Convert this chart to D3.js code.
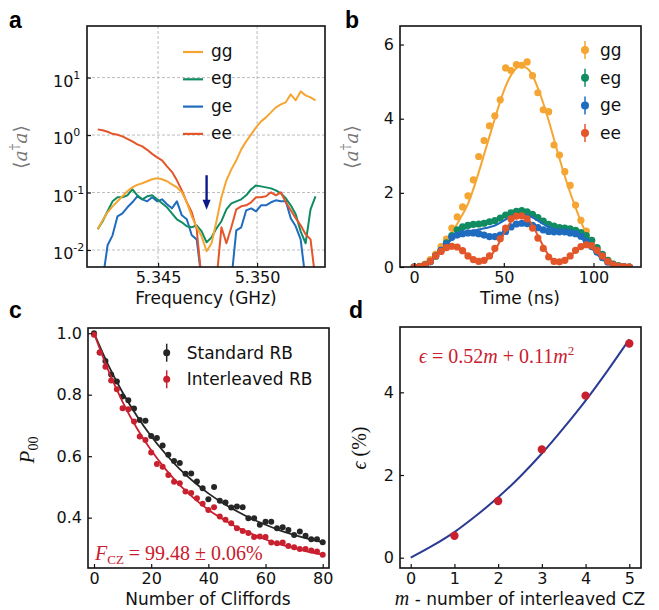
<!DOCTYPE html>
<html>
<head>
<meta charset="utf-8">
<script src="https://cdn.jsdelivr.net/npm/d3@7"></script>
<style>
body { margin: 0; background: #fff; }
</style>
</head>
<body>
<svg id="fig" width="659" height="610"></svg>
<script>
// ---- panel a: photon number vs drive frequency (GHz), log scale ----
const freqA = [5.34195, 5.34220, 5.34245, 5.34270, 5.34295, 5.34320, 5.34345, 5.34370, 5.34395, 5.34420,
  5.34445, 5.34470, 5.34495, 5.34520, 5.34545, 5.34570, 5.34595, 5.34620, 5.34645, 5.34670,
  5.34695, 5.34720, 5.34745, 5.34770, 5.34795, 5.34820, 5.34845, 5.34870, 5.34895, 5.34920,
  5.34945, 5.34970, 5.34995, 5.35020, 5.35045, 5.35070, 5.35095, 5.35120, 5.35145, 5.35170,
  5.35195, 5.35220, 5.35245, 5.35270, 5.35295];
const ggA = [0.0229, 0.0329, 0.0453, 0.0575, 0.0703, 0.0859, 0.105, 0.123, 0.136, 0.145,
  0.157, 0.170, 0.177, 0.170, 0.157, 0.139, 0.123, 0.101, 0.0676, 0.0386,
  0.0248, 0.0173, 0.0095, 0.0131, 0.0316, 0.0826, 0.163, 0.253, 0.363, 0.564,
  0.777, 1.03, 1.36, 1.73, 2.03, 2.48, 3.03, 3.42, 3.71, 5.12,
  4.03, 5.75, 4.90, 4.53, 4.03];
const egA = [0.0229, 0.0317, 0.0471, 0.0703, 0.0826, 0.0826, 0.0894, 0.114, 0.0894, 0.0762,
  0.0859, 0.0894, 0.0762, 0.0649, 0.0553, 0.0435, 0.0342, 0.0303, 0.0258, 0.0248,
  0.0269, 0.0211, 0.0136, 0.0166, 0.0238, 0.0317, 0.051, 0.0649, 0.0703, 0.0762,
  0.0894, 0.114, 0.133, 0.128, 0.123, 0.118, 0.109, 0.0969, 0.0793, 0.0599,
  0.0418, 0.0211, 0.0131, 0.051, 0.0859];
const geA = [null, 0.003, 0.0121, 0.018, 0.0386, 0.0435, 0.0553, 0.0676, 0.0859, 0.0762,
  0.0703, 0.0826, 0.0703, 0.0762, 0.0624, 0.0531, 0.0703, 0.0401, 0.0342, 0.018,
  0.0153, 0.003, null, null, null, null, null, 0.003, 0.022, 0.0248,
  0.049, 0.0531, 0.0471, 0.0599, 0.0599, 0.0676, 0.0731, 0.0703, 0.0703, 0.0356,
  0.0258, 0.0153, 0.003, null, null];
const eeA = [1.256, 1.21, 1.14, 1.05, 1.01, 0.949, 0.859, 0.777, 0.689, 0.636,
  0.553, 0.471, 0.41, 0.363, 0.286, 0.229, 0.163, 0.109, 0.0676, 0.0453,
  0.0229, 0.003, null, null, 0.003, 0.0248, 0.0131, 0.0248, 0.051, 0.0575,
  0.0599, 0.0676, 0.0826, 0.0826, 0.0859, 0.101, 0.0894, 0.101, 0.0676, 0.049,
  0.0359, 0.0269, 0.0188, 0.0153, 0.003];
const arrowFreq = 5.34745, arrowFrom = 0.2, arrowTo = 0.05;

// ---- panel b: photon number vs time (ns) ----
const timeB = [0, 3, 6, 9, 12, 15, 18, 21, 24, 27, 30, 33, 36, 39, 42, 45, 48, 51, 54, 57,
  60, 63, 66, 69, 72, 75, 78, 81, 84, 87, 90, 93, 96, 99, 102, 105, 108, 111, 114, 117, 120];
const ggB = [0, 0.02, 0.08, 0.2, 0.35, 0.55, 0.75, 1.05, 1.35, 1.62, 1.92, 2.35, 2.98, 3.41, 3.81, 4.08, 4.51, 5.37, 5.3, 5.46,
  5.44, 5.53, 5.16, 4.7, 4.24, 4.19, 3.29, 3.02, 2.57, 2.2, 1.67, 1.26, 0.97, 0.72, 0.5, 0.32, 0.18, 0.08, 0.03, 0.01, 0];
const egB = [0, 0.01, 0.05, 0.15, 0.3, 0.45, 0.65, 0.85, 1.0, 1.08, 1.12, 1.15, 1.16, 1.18, 1.22, 1.25, 1.32, 1.4, 1.46, 1.5,
  1.52, 1.49, 1.42, 1.33, 1.24, 1.15, 1.1, 1.06, 1.05, 1.03, 0.99, 0.93, 0.85, 0.72, 0.52, 0.34, 0.18, 0.08, 0.03, 0.01, 0];
const geB = [0, 0.01, 0.05, 0.14, 0.3, 0.45, 0.62, 0.8, 0.86, 0.9, 0.92, 0.92, 0.9, 0.86, 0.82, 0.82, 0.86, 0.96, 1.08, 1.16,
  1.18, 1.17, 1.12, 1.06, 1.0, 0.96, 0.95, 0.95, 0.95, 0.92, 0.9, 0.83, 0.7, 0.55, 0.4, 0.25, 0.13, 0.06, 0.02, 0.01, 0];
const eeB = [0, 0.01, 0.05, 0.15, 0.3, 0.42, 0.52, 0.56, 0.54, 0.44, 0.3, 0.2, 0.15, 0.18, 0.3, 0.5, 0.76, 1.05, 1.3, 1.37,
  1.38, 1.3, 1.05, 0.78, 0.5, 0.27, 0.15, 0.14, 0.18, 0.3, 0.45, 0.55, 0.6, 0.58, 0.45, 0.3, 0.15, 0.06, 0.02, 0.01, 0];
const timeFit = [0, 5, 10, 15, 20, 25, 30, 35, 40, 45, 50, 55, 60, 65, 70, 75, 80, 85, 90, 95, 100, 105, 110, 115, 120];
const ggFit = [0, 0.05, 0.22, 0.5, 0.85, 1.25, 1.7, 2.4, 3.2, 4.0, 4.75, 5.25, 5.42, 5.25, 4.7, 3.95, 3.1, 2.3, 1.6, 1.0, 0.55, 0.25, 0.08, 0.01, 0];
const egFit = [0, 0.05, 0.2, 0.45, 0.72, 0.95, 1.08, 1.13, 1.17, 1.24, 1.36, 1.47, 1.52, 1.46, 1.32, 1.17, 1.08, 1.03, 0.95, 0.78, 0.5, 0.24, 0.08, 0.01, 0];
const geFit = [0, 0.05, 0.2, 0.45, 0.7, 0.87, 0.95, 1.0, 1.05, 1.12, 1.25, 1.38, 1.42, 1.36, 1.22, 1.08, 1.0, 0.96, 0.88, 0.7, 0.45, 0.2, 0.06, 0.01, 0];
const eeFit = [0, 0.05, 0.22, 0.42, 0.53, 0.5, 0.32, 0.17, 0.2, 0.45, 0.9, 1.28, 1.38, 1.2, 0.75, 0.32, 0.15, 0.22, 0.42, 0.55, 0.48, 0.25, 0.08, 0.01, 0];

// ---- panel c: randomized benchmarking ----
const cliffords = [0, 2, 4, 6, 8, 10, 12, 14, 16, 18, 20, 22, 24, 26, 28, 30, 32, 34, 36, 38, 40,
  42, 44, 46, 48, 50, 52, 54, 56, 58, 60, 62, 64, 66, 68, 70, 72, 74, 76, 78, 80];
const standardRB = [1.0, 0.937, 0.91, 0.866, 0.843, 0.794, 0.782, 0.755, 0.718, 0.715, 0.666, 0.659, 0.635, 0.605, 0.584, 0.578, 0.543, 0.544, 0.518, 0.496, 0.46,
  0.5, 0.455, 0.449, 0.433, 0.436, 0.434, 0.398, 0.398, 0.377, 0.387, 0.387, 0.366, 0.369, 0.36, 0.344, 0.355, 0.341, 0.33, 0.33, 0.32];
const interleavedRB = [0.995, 0.937, 0.891, 0.846, 0.818, 0.756, 0.753, 0.713, 0.664, 0.653, 0.612, 0.575, 0.566, 0.539, 0.517, 0.512, 0.485, 0.48, 0.463, 0.445, 0.425,
  0.434, 0.404, 0.393, 0.382, 0.366, 0.357, 0.35, 0.337, 0.339, 0.337, 0.319, 0.317, 0.319, 0.308, 0.304, 0.298, 0.298, 0.293, 0.29, 0.279];
const cliffFit = [0, 5, 10, 15, 20, 25, 30, 35, 40, 45, 50, 55, 60, 65, 70, 75, 80];
const standardFit = [1.0, 0.896, 0.807, 0.731, 0.665, 0.608, 0.558, 0.516, 0.479, 0.448, 0.421, 0.397, 0.377, 0.359, 0.344, 0.331, 0.32];
const interleavedFit = [1.0, 0.879, 0.777, 0.691, 0.619, 0.558, 0.506, 0.463, 0.426, 0.396, 0.369, 0.348, 0.329, 0.313, 0.301, 0.289, 0.28];

// ---- panel d: error vs number of interleaved CZ ----
const mVals = [1, 2, 3, 4, 5];
const epsVals = [0.53, 1.37, 2.62, 3.92, 5.18];
const mFit = [0, 0.5, 1, 1.5, 2, 2.5, 3, 3.5, 4, 4.5, 5];
const epsFit = [0, 0.29, 0.62, 1.02, 1.46, 1.96, 2.52, 3.14, 3.8, 4.52, 5.28];

const seriesNames = ["gg", "eg", "ge", "ee"];
const colors = {gg: "#f5a532", eg: "#118c62", ge: "#1f6cbf", ee: "#e3562a"};
const red = "#c8202f", black = "#262626", navy = "#2b3a92";
const sans = "DejaVu Sans, Liberation Sans, sans-serif";
const serif = "Liberation Serif, DejaVu Serif, serif";

const svg = d3.select("#fig");

function zip(xs, ys) { return xs.map((x, i) => ({x: x, y: ys[i]})); }

function drawFrame(b) {
  svg.append("rect")
    .attr("x", b.x0).attr("y", b.y0)
    .attr("width", b.x1 - b.x0).attr("height", b.y1 - b.y0)
    .attr("fill", "none").attr("stroke", "#111").attr("stroke-width", 1.6);
}

function addClip(id, b) {
  svg.append("clipPath").attr("id", id).append("rect")
    .attr("x", b.x0).attr("y", b.y0).attr("width", b.x1 - b.x0).attr("height", b.y1 - b.y0);
}

function drawAxes(b, sx, sy, xTicks, yTicks, xFmt, yFmt) {
  const gx = svg.append("g").attr("transform", `translate(0,${b.y1})`)
    .call(d3.axisBottom(sx).tickValues(xTicks).tickSize(-4).tickPadding(5).tickFormat(xFmt));
  const gy = svg.append("g").attr("transform", `translate(${b.x0},0)`)
    .call(d3.axisLeft(sy).tickValues(yTicks).tickSize(-4).tickPadding(6).tickFormat(yFmt));
  [gx, gy].forEach(g => {
    g.select(".domain").remove();
    g.selectAll(".tick line").attr("stroke", "#111").attr("stroke-width", 1.2);
    g.selectAll(".tick text").attr("font-family", sans).attr("font-size", 16).attr("fill", "#111");
  });
  return gy;
}

function axisTitle(x, y, txt) {
  return svg.append("text").attr("x", x).attr("y", y)
    .attr("text-anchor", "middle").attr("font-family", sans).attr("font-size", 17).attr("fill", "#111")
    .text(txt);
}

function panelLetter(x, y, s) {
  svg.append("text").attr("x", x).attr("y", y).attr("font-family", "Liberation Sans, Arial, sans-serif")
    .attr("font-weight", "bold").attr("font-size", 23).attr("fill", "#000").text(s);
}

// bra-ket label <a^dagger a>
function photonLabel(x, y) {
  const t = svg.append("text").attr("x", x).attr("y", y).attr("text-anchor", "middle")
    .attr("font-family", "DejaVu Serif, serif").attr("font-size", 19).attr("fill", "#777")
    .attr("transform", `rotate(-90,${x},${y})`);
  t.append("tspan").text("\u27E8");
  t.append("tspan").attr("font-style", "italic").text("a");
  t.append("tspan").attr("font-size", 13).attr("dy", -8).text("\u2020");
  t.append("tspan").attr("font-style", "italic").attr("dy", 8).text("a");
  t.append("tspan").text("\u27E9");
}

// ================= panel a =================
const boxA = {x0: 87, y0: 26, x1: 325, y1: 267};
const xA = d3.scaleLinear().domain([5.34141, 5.35343]).range([boxA.x0, boxA.x1]);
const yA = d3.scaleLog().domain([0.00506, 79]).range([boxA.y1, boxA.y0]);
const decades = [0.01, 0.1, 1, 10];
addClip("clipA", boxA);

const gridA = svg.append("g").attr("stroke", "#b5b5b5").attr("stroke-width", 0.9).attr("stroke-dasharray", "3,2");
[5.345, 5.350].forEach(f => gridA.append("line")
  .attr("x1", xA(f)).attr("x2", xA(f)).attr("y1", boxA.y0).attr("y2", boxA.y1));
decades.forEach(v => gridA.append("line")
  .attr("x1", boxA.x0).attr("x2", boxA.x1).attr("y1", yA(v)).attr("y2", yA(v)));

const lineA = d3.line().defined(d => d.y != null).x(d => xA(d.x)).y(d => yA(d.y));
const dataA = {gg: ggA, eg: egA, ge: geA, ee: eeA};
["ge", "eg", "ee", "gg"].forEach(k => {
  svg.append("path").datum(zip(freqA, dataA[k])).attr("d", lineA)
    .attr("clip-path", "url(#clipA)")
    .attr("fill", "none").attr("stroke", colors[k]).attr("stroke-width", 2).attr("stroke-linejoin", "round");
});

// arrow
const ax = xA(arrowFreq), ay0 = yA(arrowFrom), ay1 = yA(arrowTo);
svg.append("line").attr("x1", ax).attr("x2", ax).attr("y1", ay0).attr("y2", ay1 - 8)
  .attr("stroke", "#0f1a8a").attr("stroke-width", 2.4);
svg.append("path").attr("d", `M${ax - 4},${ay1 - 10} L${ax + 4},${ay1 - 10} L${ax},${ay1} Z`).attr("fill", "#0f1a8a");

drawAxes(boxA, xA, yA, [5.345, 5.350], decades, d3.format(".3f"), () => "");
decades.forEach(v => {
  const e = Math.round(Math.log10(v));
  const t = svg.append("text").attr("x", 53).attr("y", yA(v) + 9)
    .attr("font-family", sans).attr("font-size", 16).attr("fill", "#111");
  t.append("tspan").text("10");
  t.append("tspan").attr("font-size", 11).attr("dy", -8).text(e < 0 ? "-" + (-e) : String(e));
});
drawFrame(boxA);

// legend a
seriesNames.forEach((k, i) => {
  const y = 52 + i * 27.3;
  svg.append("line").attr("x1", 183).attr("x2", 203).attr("y1", y).attr("y2", y)
    .attr("stroke", colors[k]).attr("stroke-width", 2.2);
  svg.append("text").attr("x", 211).attr("y", y + 5).attr("font-family", sans).attr("font-size", 17)
    .attr("fill", "#111").text(k);
});
axisTitle(206, 304, "Frequency (GHz)");
photonLabel(27, 147);
panelLetter(9, 28, "a");

// ================= panel b =================
const boxB = {x0: 400, y0: 26, x1: 641, y1: 267};
const xB = d3.scaleLinear().domain([-7.9, 126.5]).range([boxB.x0, boxB.x1]);
const yB = d3.scaleLinear().domain([0, 6.5]).range([boxB.y1, boxB.y0]);
addClip("clipB", boxB);
const lineB = d3.line().x(d => xB(d.x)).y(d => yB(d.y)).curve(d3.curveMonotoneX);
const ptsB = {gg: ggB, eg: egB, ge: geB, ee: eeB};
const fitB = {gg: ggFit, eg: egFit, ge: geFit, ee: eeFit};
seriesNames.forEach(k => {
  svg.append("path").datum(zip(timeFit, fitB[k])).attr("d", lineB).attr("clip-path", "url(#clipB)")
    .attr("fill", "none").attr("stroke", colors[k]).attr("stroke-width", 2);
  svg.append("g").selectAll("circle").data(zip(timeB, ptsB[k])).join("circle")
    .attr("cx", d => xB(d.x)).attr("cy", d => yB(d.y)).attr("r", 3.6)
    .attr("clip-path", "url(#clipB)").attr("fill", colors[k]);
});
drawAxes(boxB, xB, yB, [0, 50, 100], [0, 2, 4, 6], d3.format("d"), d3.format("d"));
drawFrame(boxB);
seriesNames.forEach((k, i) => {
  const y = 50 + i * 27.7;
  svg.append("line").attr("x1", 585).attr("x2", 585).attr("y1", y - 9).attr("y2", y + 9)
    .attr("stroke", colors[k]).attr("stroke-width", 1.5);
  svg.append("circle").attr("cx", 585).attr("cy", y).attr("r", 4).attr("fill", colors[k]);
  svg.append("text").attr("x", 600).attr("y", y + 6).attr("font-family", sans).attr("font-size", 17)
    .attr("fill", "#111").text(k);
});
axisTitle(520, 304, "Time (ns)");
photonLabel(358, 147);
panelLetter(345, 28, "b");

// ================= panel c =================
const boxC = {x0: 88, y0: 328, x1: 329, y1: 568};
const xC = d3.scaleLinear().domain([-2.1, 82.2]).range([boxC.x0, boxC.x1]);
const yC = d3.scaleLinear().domain([0.2363, 1.017]).range([boxC.y1, boxC.y0]);
const lineC = d3.line().x(d => xC(d.x)).y(d => yC(d.y)).curve(d3.curveMonotoneX);
[[standardFit, standardRB, black], [interleavedFit, interleavedRB, red]].forEach(([fit, pts, c]) => {
  svg.append("path").datum(zip(cliffFit, fit)).attr("d", lineC)
    .attr("fill", "none").attr("stroke", c).attr("stroke-width", 1.8);
  svg.append("g").selectAll("circle").data(zip(cliffords, pts)).join("circle")
    .attr("cx", d => xC(d.x)).attr("cy", d => yC(d.y)).attr("r", 3).attr("fill", c);
});
drawAxes(boxC, xC, yC, [0, 20, 40, 60, 80], [0.4, 0.6, 0.8, 1.0], d3.format("d"), d3.format(".1f"));
drawFrame(boxC);
[["Standard RB", black], ["Interleaved RB", red]].forEach(([name, c], i) => {
  const y = 352.7 + i * 26.6;
  svg.append("line").attr("x1", 166.7).attr("x2", 166.7).attr("y1", y - 9).attr("y2", y + 9)
    .attr("stroke", c).attr("stroke-width", 1.5);
  svg.append("circle").attr("cx", 166.7).attr("cy", y).attr("r", 3.5).attr("fill", c);
  svg.append("text").attr("x", 186.7).attr("y", y + 6).attr("font-family", sans).attr("font-size", 17)
    .attr("fill", "#111").text(name);
});
const fcz = svg.append("text").attr("x", 95).attr("y", 560).attr("font-family", serif)
  .attr("font-size", 20).attr("fill", red);
fcz.append("tspan").attr("font-style", "italic").text("F");
fcz.append("tspan").attr("font-size", 13).attr("dy", 4).text("CZ");
fcz.append("tspan").attr("dy", -4).text(" = 99.48 \u00B1 0.06%");
axisTitle(208, 605, "Number of Cliffords");
const pLab = svg.append("text").attr("x", 34).attr("y", 450).attr("text-anchor", "middle")
  .attr("font-family", serif).attr("font-size", 21).attr("fill", "#111")
  .attr("transform", "rotate(-90,34,450)");
pLab.append("tspan").attr("font-style", "italic").text("P");
pLab.append("tspan").attr("font-size", 14).attr("dy", 4).text("00");
panelLetter(9, 318, "c");

// ================= panel d =================
const boxD = {x0: 400, y0: 327, x1: 641, y1: 568};
const xD = d3.scaleLinear().domain([-0.245, 5.268]).range([boxD.x0, boxD.x1]);
const yD = d3.scaleLinear().domain([-0.249, 5.58]).range([boxD.y1, boxD.y0]);
const lineD = d3.line().x(d => xD(d.x)).y(d => yD(d.y)).curve(d3.curveMonotoneX);
svg.append("path").datum(zip(mFit, epsFit)).attr("d", lineD)
  .attr("fill", "none").attr("stroke", navy).attr("stroke-width", 2);
svg.append("g").selectAll("circle").data(zip(mVals, epsVals)).join("circle")
  .attr("cx", d => xD(d.x)).attr("cy", d => yD(d.y)).attr("r", 4.2).attr("fill", red);
drawAxes(boxD, xD, yD, [0, 1, 2, 3, 4, 5], [0, 2, 4], d3.format("d"), d3.format("d"));
drawFrame(boxD);
const epsT = svg.append("text").attr("x", 419).attr("y", 363).attr("font-family", serif)
  .attr("font-size", 20).attr("fill", red);
epsT.append("tspan").attr("font-style", "italic").text("\u03F5");
epsT.append("tspan").text(" = 0.52");
epsT.append("tspan").attr("font-style", "italic").text("m");
epsT.append("tspan").text(" + 0.11");
epsT.append("tspan").attr("font-style", "italic").text("m");
epsT.append("tspan").attr("font-size", 13).attr("dy", -8).text("2");
const mLab = svg.append("text").attr("x", 520).attr("y", 605).attr("text-anchor", "middle")
  .attr("font-size", 17).attr("fill", "#111");
mLab.append("tspan").attr("font-family", serif).attr("font-style", "italic").attr("font-size", 20).text("m");
mLab.append("tspan").attr("font-family", sans).text(" - number of interleaved CZ");
const eLab = svg.append("text").attr("x", 366).attr("y", 448).attr("text-anchor", "middle")
  .attr("font-family", serif).attr("font-size", 20).attr("fill", "#111")
  .attr("transform", "rotate(-90,366,448)");
eLab.append("tspan").attr("font-style", "italic").text("\u03F5");
eLab.append("tspan").text(" (%)");
panelLetter(349, 318, "d");
</script>
</body>
</html>
